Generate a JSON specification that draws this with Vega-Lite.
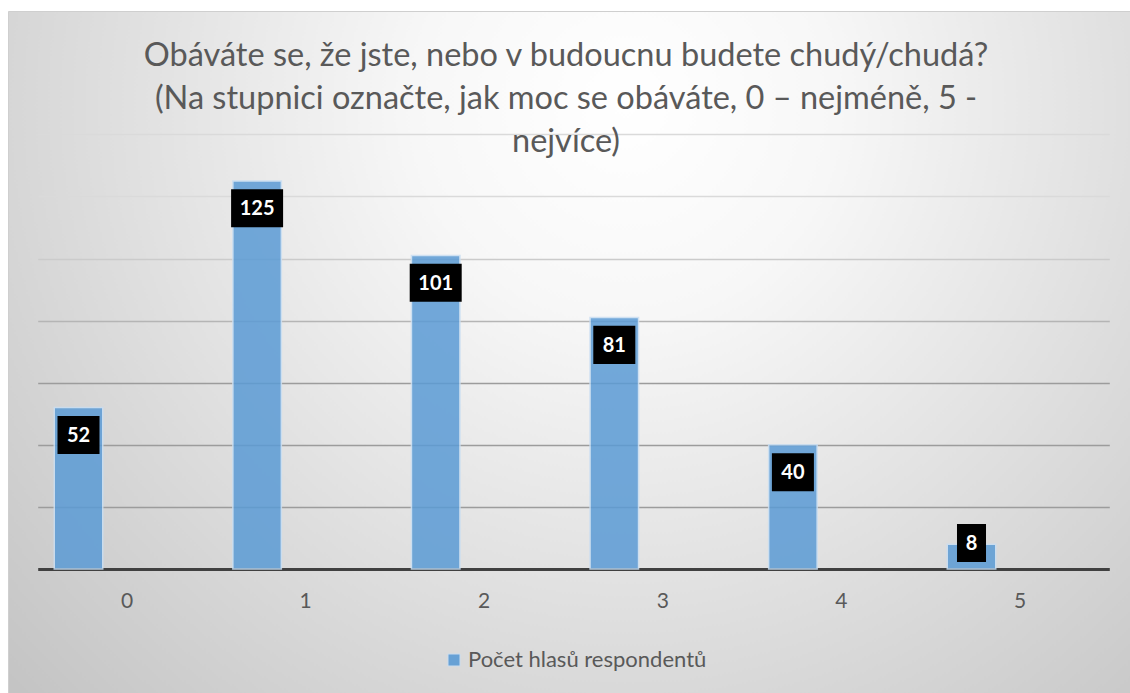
{
  "$schema": "https://vega.github.io/schema/vega-lite/v6.json",
  "width": 1122,
  "height": 682,
  "autosize": {"type": "none"},
  "padding": {"left": 8, "top": 11, "right": 0, "bottom": 0},
  "background": "#ffffff",
  "title": {
    "text": ["Obáváte se, že jste, nebo v budoucnu budete chudý/chudá?", "(Na stupnici označte, jak moc se obáváte, 0 – nejméně, 5 -", "nejvíce)"],
    "orient": "top",
    "anchor": "middle",
    "frame": "group",
    "offset": -147,
    "dx": -3,
    "font": "Lato",
    "fontSize": 32.5,
    "fontWeight": "normal",
    "color": "#595959",
    "lineHeight": 43
  },
  "data": {
    "values": [
      {"cat": 0, "value": 52},
      {"cat": 1, "value": 125},
      {"cat": 2, "value": 101},
      {"cat": 3, "value": 81},
      {"cat": 4, "value": 40},
      {"cat": 5, "value": 8}
    ]
  },
  "transform": [
    {"calculate": "length(toString(datum.value))", "as": "digits"},
    {"calculate": "max(datum.value - 8.8, 8.4)", "as": "labelPos"}
  ],
  "encoding": {
    "x": {
      "field": "cat",
      "type": "ordinal",
      "scale": {"range": [29.7, 1101.3], "paddingInner": 0, "paddingOuter": 0},
      "axis": {
        "title": null,
        "labelAngle": 0,
        "domain": true,
        "domainColor": "#404040",
        "domainWidth": 3,
        "ticks": false,
        "tickSize": 0,
        "grid": false,
        "labelPadding": 21,
        "labelFont": "Lato",
        "labelFontSize": 21,
        "labelColor": "#595959",
        "offset": -124
      }
    }
  },
  "layer": [
    {
      "mark": {"type": "bar", "width": 48.5, "xOffset": -48.5, "opacity": 0.85, "stroke": "#c9def2", "strokeWidth": 1.5},
      "encoding": {
        "y": {
          "field": "value",
          "type": "quantitative",
          "scale": {"domain": [0, 140], "range": [558, 123.4], "nice": false, "zero": true},
          "axis": {
            "title": null,
            "labels": false,
            "ticks": false,
            "domain": false,
            "grid": true,
            "values": [20, 40, 60, 80, 100, 120, 140],
            "gridWidth": 1.5,
            "gridColor": {
              "condition": [
                {"test": "datum.value >= 120", "value": "#dadada"},
                {"test": "datum.value >= 100", "value": "#cbcbcb"},
                {"test": "datum.value >= 80", "value": "#b5b5b5"}
              ],
              "value": "#9c9c9c"
            }
          }
        },
        "color": {
          "datum": "Počet hlasů respondentů",
          "type": "nominal",
          "scale": {"range": ["#5b9bd5"]},
          "legend": {
            "title": null,
            "orient": "none",
            "legendX": 435,
            "legendY": 638,
            "padding": 0,
            "symbolType": "square",
            "symbolSize": 144,
            "symbolOpacity": 0.9,
            "symbolStrokeColor": "#c9def2",
            "symbolStrokeWidth": 1,
            "labelFont": "Lato",
            "labelFontSize": 22,
            "labelColor": "#595959",
            "labelOffset": 3,
            "labelLimit": 500
          }
        }
      }
    },
    {
      "transform": [{"filter": "datum.digits == 1"}],
      "mark": {"type": "point", "filled": true, "xOffset": -48.5, "opacity": 1, "color": "#000000", "size": 2704, "shape": "M-0.558,-0.731H0.558V0.731H-0.558Z"},
      "encoding": {
        "y": {"field": "labelPos", "type": "quantitative"}
      }
    },
    {
      "transform": [{"filter": "datum.digits == 2"}],
      "mark": {"type": "point", "filled": true, "xOffset": -48.5, "opacity": 1, "color": "#000000", "size": 2704, "shape": "M-0.808,-0.731H0.808V0.731H-0.808Z"},
      "encoding": {
        "y": {"field": "labelPos", "type": "quantitative"}
      }
    },
    {
      "transform": [{"filter": "datum.digits == 3"}],
      "mark": {"type": "point", "filled": true, "xOffset": -48.5, "opacity": 1, "color": "#000000", "size": 2704, "shape": "M-1,-0.731H1V0.731H-1Z"},
      "encoding": {
        "y": {"field": "labelPos", "type": "quantitative"}
      }
    },
    {
      "mark": {"type": "text", "xOffset": -48.5, "baseline": "middle", "align": "center", "font": "Lato", "fontWeight": "bold", "fontSize": 20, "color": "#ffffff", "dy": 1},
      "encoding": {
        "y": {"field": "labelPos", "type": "quantitative"},
        "text": {"field": "value", "type": "quantitative"}
      }
    }
  ],
  "config": {
    "view": {
      "fill": {
        "gradient": "radial",
        "x1": 0.55, "y1": 0.28, "r1": 0,
        "x2": 0.55, "y2": 0.28, "r2": 0.75,
        "stops": [
          {"offset": 0, "color": "#ffffff"},
          {"offset": 0.25, "color": "#f7f7f7"},
          {"offset": 1, "color": "#c4c4c4"}
        ]
      },
      "stroke": "#cfcfcf",
      "strokeWidth": 1
    }
  }
}
